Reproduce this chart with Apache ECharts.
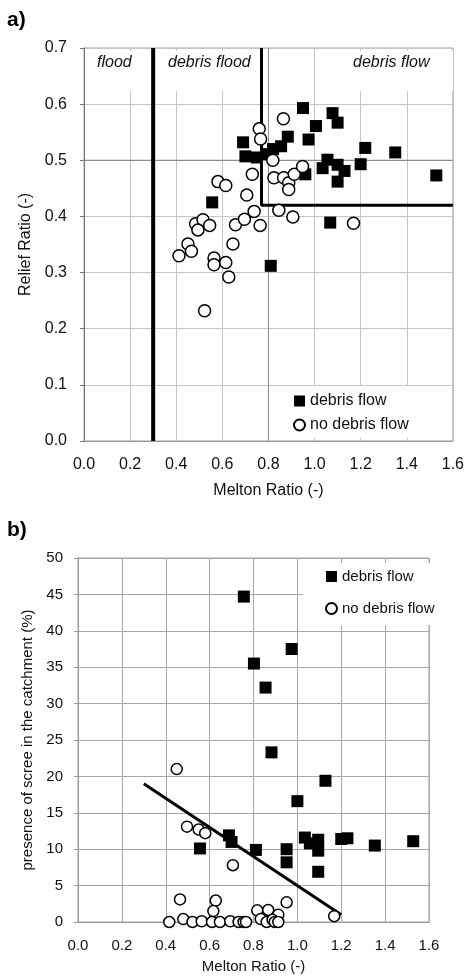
<!DOCTYPE html>
<html>
<head>
<meta charset="utf-8">
<script src="https://cdn.jsdelivr.net/npm/echarts@6/dist/echarts.min.js"></script>
<style>
  html, body { margin: 0; padding: 0; background: #fff; }
  #chart { width: 467px; height: 976px; }
</style>
</head>
<body>
<div id="chart"></div>
<script>
// a) Melton ratio vs relief ratio
var aFlowMelton = [0.556, 0.69, 0.70, 0.75, 0.79, 0.82, 0.855, 0.884, 0.95, 0.974, 1.006, 1.078, 1.10, 1.22, 1.35,
  1.056, 1.10, 1.035, 1.13, 1.20, 0.96, 1.10, 1.528, 1.068, 0.81];
var aFlowRelief = [0.425, 0.532, 0.507, 0.505, 0.511, 0.52, 0.525, 0.542, 0.593, 0.537, 0.561, 0.584, 0.567, 0.522, 0.514,
  0.501, 0.492, 0.486, 0.481, 0.493, 0.475, 0.462, 0.473, 0.389, 0.312];
var aNoMelton = [0.523, 0.412, 0.451, 0.466, 0.484, 0.516, 0.494, 0.545, 0.564, 0.564, 0.615, 0.628, 0.646, 0.657, 0.696,
  0.738, 0.764, 0.581, 0.615, 0.706, 0.730, 0.760, 0.766, 0.865, 0.819, 0.824, 0.866, 0.888, 0.888, 0.912, 0.948,
  0.845, 0.906, 1.169];
var aNoRelief = [0.232, 0.330, 0.351, 0.338, 0.387, 0.394, 0.376, 0.384, 0.326, 0.314, 0.318, 0.292, 0.351, 0.385, 0.395,
  0.409, 0.384, 0.462, 0.455, 0.438, 0.475, 0.556, 0.538, 0.574, 0.500, 0.469, 0.469, 0.460, 0.448, 0.475, 0.489,
  0.411, 0.399, 0.388];
// thresholds drawn in a)
var floodLimit = [[0.3, 0], [0.3, 0.7]];
var debrisFlowBox = [[0.77, 0.7], [0.77, 0.42], [1.6, 0.42]];
var refLineY = [[0, 0.5], [1.6, 0.5]];
var refLineX = [[0.8, 0], [0.8, 0.7]];

// b) Melton ratio vs scree (%)
var bFlowMelton = [0.756, 0.802, 0.855, 0.974, 0.882, 1.0, 1.128, 0.556, 0.688, 0.70, 0.811, 0.951, 0.951, 1.034,
  1.057, 1.095, 1.095, 1.095, 1.20, 1.228, 1.353, 1.528];
var bFlowScree = [44.7, 35.5, 32.2, 37.5, 23.3, 16.6, 19.4, 10.1, 11.9, 11.0, 9.9, 10.0, 8.2, 11.6,
  10.8, 11.3, 9.8, 6.9, 11.4, 11.5, 10.5, 11.1];
var bNoMelton = [0.45, 0.497, 0.55, 0.58, 0.706, 0.465, 0.628, 0.617, 0.951, 0.817, 0.867, 0.913, 1.168,
  0.416, 0.48, 0.522, 0.564, 0.611, 0.647, 0.694, 0.732, 0.755, 0.766, 0.833, 0.86, 0.887, 0.897, 0.913];
var bNoScree = [21.0, 13.1, 12.7, 12.2, 7.8, 3.1, 2.95, 1.5, 2.7, 1.6, 1.65, 1.0, 0.8,
  0, 0.4, 0, 0.1, 0, 0, 0.1, 0, 0, 0, 0.4, 0, 0.3, 0, 0];
var trendLine = [[0.3, 19], [1.2, 1]];

var xTicks = [0, 1.6, 0.2];

function pairs(xs, ys) {
  return xs.map(function (x, i) { return [x, ys[i]]; });
}

var chart = echarts.init(document.getElementById('chart'));
var font = 'Liberation Sans, Arial, sans-serif';

function xAxisOf(grid, size, gap) {
  return {
    gridIndex: grid, type: 'value', min: xTicks[0], max: xTicks[1], interval: xTicks[2],
    name: 'Melton Ratio (-)', nameLocation: 'middle', nameGap: gap,
    nameTextStyle: { fontSize: size, color: '#111' },
    axisLine: { lineStyle: { color: '#999' } },
    axisTick: { show: false },
    axisLabel: { fontSize: size, color: '#111', margin: 16, formatter: function (v) { return v.toFixed(1); } },
    splitLine: { lineStyle: { color: grid === 0 ? '#c6c6c6' : '#a8a8a8' } }
  };
}

function lineSeries(x, y, data, color, width) {
  return {
    type: 'line', xAxisIndex: x, yAxisIndex: y, data: data, symbol: 'none', silent: true, z: 2,
    lineStyle: { color: color, width: width }, animation: false
  };
}

var squareStyle = { color: '#000', opacity: 1 };
var circleStyle = { color: '#fff', borderColor: '#000', borderWidth: 1.5, opacity: 1 };

var option = {
  animation: false,
  textStyle: { fontFamily: font },
  grid: [
    { left: 84, top: 48, width: 370, height: 393, show: true, borderColor: '#a0a0a0', borderWidth: 1 },
    { left: 78, top: 558, width: 351, height: 364, show: true, borderColor: '#a0a0a0', borderWidth: 1 }
  ],
  xAxis: [xAxisOf(0, 16, 42), xAxisOf(1, 15, 37)],
  yAxis: [
    {
      gridIndex: 0, type: 'value', min: 0, max: 0.7, interval: 0.1,
      name: 'Relief Ratio (-)', nameLocation: 'middle', nameGap: 50,
      nameTextStyle: { fontSize: 16, color: '#111' },
      axisLine: { show: true, lineStyle: { color: '#777' } },
      axisTick: { show: true, length: 4, lineStyle: { color: '#777' } },
      axisLabel: { fontSize: 16, color: '#111', margin: 17, formatter: function (v) { return v.toFixed(1); } },
      splitLine: { lineStyle: { color: '#c6c6c6' } }
    },
    {
      gridIndex: 1, type: 'value', min: 0, max: 50, interval: 5,
      name: 'presence of scree in the catchment (%)', nameLocation: 'middle', nameGap: 42,
      nameTextStyle: { fontSize: 15, color: '#111' },
      axisLine: { show: true, lineStyle: { color: '#999' } },
      axisTick: { show: true, length: 4, lineStyle: { color: '#999' } },
      axisLabel: { fontSize: 15, color: '#111', margin: 15 },
      splitLine: { lineStyle: { color: '#a8a8a8' } }
    }
  ],
  legend: [
    {
      orient: 'vertical', left: 270, top: 386, padding: [7, 43, 5, 23], itemGap: 8,
      itemWidth: 11, itemHeight: 11, backgroundColor: '#fff',
      textStyle: { fontSize: 16, color: '#111' },
      data: [{ name: 'debris flow', icon: 'rect' }, { name: 'no debris flow', icon: 'circle' }]
    },
    {
      orient: 'vertical', left: 303, top: 563, padding: [6, 2, 9, 22], itemGap: 17,
      itemWidth: 11, itemHeight: 11, backgroundColor: '#fff',
      textStyle: { fontSize: 15, color: '#111' },
      data: [{ name: 'debris flow', icon: 'rect' }, { name: 'no debris flow', icon: 'circle' }]
    }
  ],
  graphic: [
    { type: 'rect', left: 85, top: 51, shape: { width: 176, height: 40 }, style: { fill: '#fff' }, z: 1 },
    { type: 'rect', left: 271, top: 51, shape: { width: 43, height: 40 }, style: { fill: '#fff' }, z: 1 },
    { type: 'rect', left: 317, top: 51, shape: { width: 136, height: 40 }, style: { fill: '#fff' }, z: 1 },
    { type: 'text', left: 97, top: 55, z: 5, style: { text: 'flood', font: 'italic 16px ' + font, fill: '#111' } },
    { type: 'text', left: 168, top: 55, z: 5, style: { text: 'debris flood', font: 'italic 16px ' + font, fill: '#111' } },
    { type: 'text', left: 353, top: 55, z: 5, style: { text: 'debris flow', font: 'italic 16px ' + font, fill: '#111' } },
    { type: 'text', left: 7, top: 10, z: 5, style: { text: 'a)', font: 'bold 21px ' + font, fill: '#000' } },
    { type: 'text', left: 7, top: 520, z: 5, style: { text: 'b)', font: 'bold 21px ' + font, fill: '#000' } }
  ],
  series: [
    lineSeries(0, 0, refLineY, '#808080', 1),
    lineSeries(0, 0, refLineX, '#909090', 1),
    lineSeries(0, 0, floodLimit, '#000', 4),
    lineSeries(0, 0, debrisFlowBox, '#000', 3),
    {
      name: 'debris flow', type: 'scatter', xAxisIndex: 0, yAxisIndex: 0, z: 3,
      symbol: 'rect', symbolSize: 12, itemStyle: squareStyle, data: pairs(aFlowMelton, aFlowRelief)
    },
    {
      name: 'no debris flow', type: 'scatter', xAxisIndex: 0, yAxisIndex: 0, z: 3,
      symbol: 'circle', symbolSize: 12, itemStyle: circleStyle, data: pairs(aNoMelton, aNoRelief)
    },
    lineSeries(1, 1, trendLine, '#000', 3),
    {
      name: 'debris flow', type: 'scatter', xAxisIndex: 1, yAxisIndex: 1, z: 3,
      symbol: 'rect', symbolSize: 12, itemStyle: squareStyle, data: pairs(bFlowMelton, bFlowScree)
    },
    {
      name: 'no debris flow', type: 'scatter', xAxisIndex: 1, yAxisIndex: 1, z: 3,
      symbol: 'circle', symbolSize: 11, itemStyle: circleStyle, data: pairs(bNoMelton, bNoScree)
    }
  ]
};
chart.setOption(option);
</script>
</body>
</html>
